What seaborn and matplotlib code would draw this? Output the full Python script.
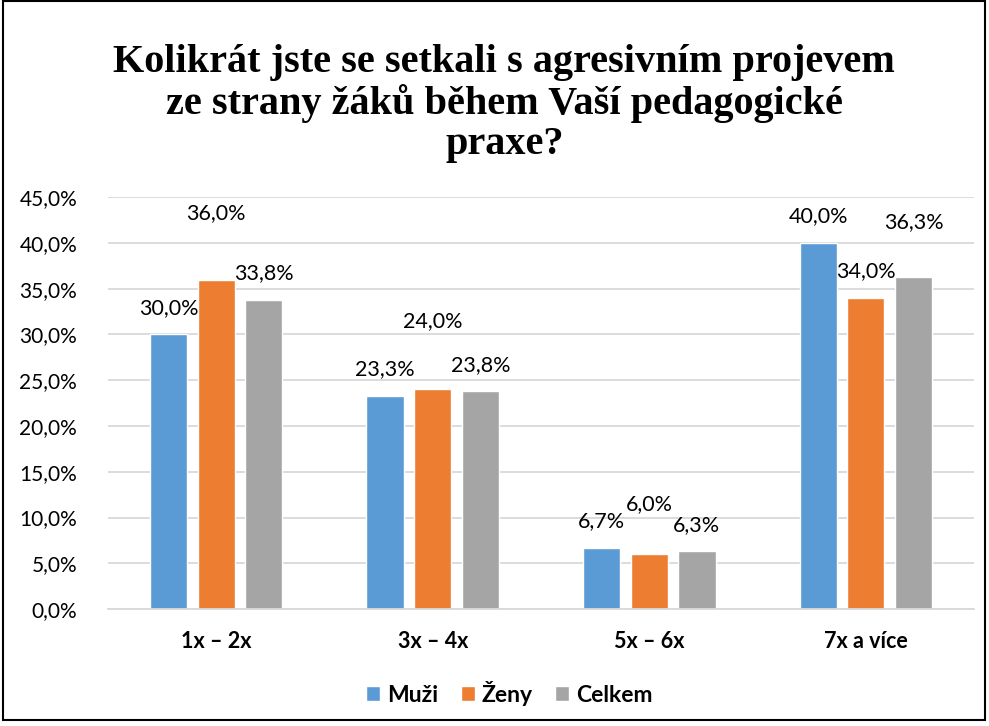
import matplotlib
matplotlib.use("Agg")
import matplotlib.pyplot as plt
import seaborn as sns
import pandas as pd
from matplotlib.ticker import FuncFormatter
from matplotlib.patches import Rectangle

# -----------------------------
# Data
# -----------------------------

categories = ["1x – 2x", "3x – 4x", "5x – 6x", "7x a více"]
groups = ["Muži", "Ženy", "Celkem"]
muzi = [30.0, 23.3, 6.7, 40.0]
zeny = [36.0, 24.0, 6.0, 34.0]
celkem = [33.8, 23.8, 6.3, 36.3]
colors = ["#5B9BD5", "#ED7D31", "#A5A5A5"]

title = "Kolikrát jste se setkali s agresivním projevem\nze strany žáků během Vaší pedagogické\npraxe?"

df = pd.DataFrame({
    "kategorie": categories * 3,
    "skupina": [g for g in groups for _ in categories],
    "hodnota": muzi + zeny + celkem,
})

# -----------------------------
# Plot
# -----------------------------

sns.set_theme(style="white")
plt.rcParams["font.family"] = ["Lato", "DejaVu Sans"]
plt.rcParams["text.color"] = "black"
plt.rcParams["xtick.color"] = "black"
plt.rcParams["ytick.color"] = "black"

fig = plt.figure(figsize=(9.89, 7.26), dpi=100)
ax = fig.add_axes([0.109, 0.161, 0.876, 0.5675])

sns.barplot(
    data=df, x="kategorie", y="hodnota", hue="skupina",
    palette=colors, width=0.66, gap=0.22, ax=ax,
    saturation=1, legend=True
)

# gridlines and axes
ax.set_ylim(0, 45)
ax.set_yticks(range(0, 50, 5))
ax.yaxis.set_major_formatter(FuncFormatter(lambda v, p: f"{v:.1f}%".replace(".", ",")))
ax.grid(axis="y", color="#D9D9D9", linewidth=1.3)
ax.set_axisbelow(True)
for s in ["left", "right", "top"]:
    ax.spines[s].set_visible(False)
ax.spines["bottom"].set_color("#D9D9D9")
ax.spines["bottom"].set_linewidth(1.3)
ax.set_xlabel("")
ax.set_ylabel("")
ax.tick_params(axis="y", labelsize=15, labelcolor="black", length=0, pad=22)
ax.tick_params(axis="x", labelsize=15.5, labelcolor="black", length=0, pad=16)
for t in ax.get_xticklabels():
    t.set_fontweight("bold")

# data labels (some moved up as in the original)
lift = {(0, 1): 4.4, (1, 1): 4.55, (2, 1): 2.6, (3, 2): 3.1}
for gi, cont in enumerate(ax.containers):
    for ci, bar in enumerate(cont):
        h = bar.get_height()
        x = bar.get_x() + bar.get_width() / 2
        y = h + 2.9 + lift.get((ci, gi), 0)
        ax.text(x, y, f"{h:.1f}%".replace(".", ","), ha="center", va="center",
                fontsize=15.5, color="black")

# legend
handles, labels = ax.get_legend_handles_labels()
ax.legend_.remove()
leg = fig.legend(handles, labels, loc="center", bbox_to_anchor=(0.515, 0.045),
                 ncol=3, frameon=False, handlelength=0.6, handleheight=0.6,
                 handletextpad=0.3, columnspacing=1.0,
                 prop={"size": 16.5, "weight": "bold"})
for t in leg.get_texts():
    t.set_color("black")

fig.suptitle(title, x=0.51, y=0.94, fontsize=29, fontweight="bold", color="black",
             family=["Liberation Serif", "DejaVu Serif"], linespacing=1.12)

# outer frame
fig.patches.append(Rectangle((0.003, 0.008), 0.993, 0.99, transform=fig.transFigure,
                             fill=False, edgecolor="black", linewidth=1.5))

plt.savefig("out.png", dpi=100)
plt.close()
